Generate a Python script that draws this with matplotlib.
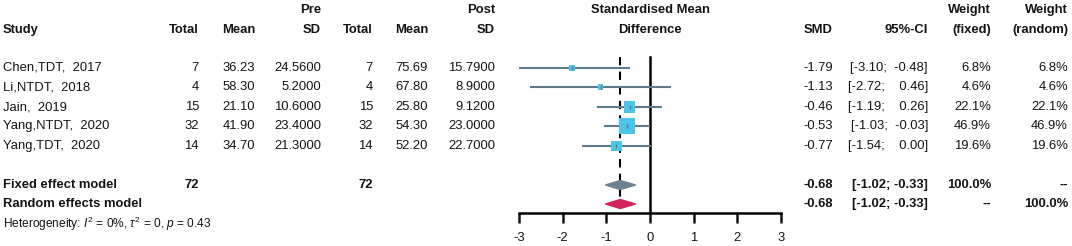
import numpy as np
import matplotlib
matplotlib.use("Agg")
import matplotlib.pyplot as plt
from matplotlib.patches import Polygon

plt.rcParams['font.family'] = ['Liberation Sans', 'DejaVu Sans']
plt.rcParams['mathtext.fontset'] = 'custom'
plt.rcParams['mathtext.rm'] = 'Liberation Sans'
plt.rcParams['mathtext.it'] = 'Liberation Sans:italic'

# data
studies = ["Chen,TDT,  2017", "Li,NTDT,  2018", "Jain,  2019", "Yang,NTDT,  2020", "Yang,TDT,  2020"]
n_pre = [7, 4, 15, 32, 14]
mean_pre = [36.23, 58.30, 21.10, 41.90, 34.70]
sd_pre = [24.56, 5.20, 10.60, 23.40, 21.30]
n_post = [7, 4, 15, 32, 14]
mean_post = [75.69, 67.80, 25.80, 54.30, 52.20]
sd_post = [15.79, 8.90, 9.12, 23.00, 22.70]
smd = [-1.79, -1.13, -0.46, -0.53, -0.77]
ci_lo = [-3.10, -2.72, -1.19, -1.03, -1.54]
ci_hi = [-0.48, 0.46, 0.26, -0.03, 0.00]
w_fixed = [6.8, 4.6, 22.1, 46.9, 19.6]
w_random = [6.8, 4.6, 22.1, 46.9, 19.6]
pooled_smd = -0.68
pooled_lo = -1.02
pooled_hi = -0.33
total_pre = 72
total_post = 72
xticks = [-3, -2, -1, 0, 1, 2, 3]

W, H = 1072, 246
fig = plt.figure(figsize=(W / 100, H / 100), dpi=100)
fig.patch.set_facecolor('white')

# text layer in pixel coordinates
tax = fig.add_axes([0, 0, 1, 1])
tax.set_xlim(0, W)
tax.set_ylim(H, 0)
tax.axis('off')

fs = 9.4
col = '#141414'
row_y = [68, 87, 107, 126, 146]
fixed_y, random_y = 185, 204

def t(x, y, s, ha='right', bold=False, size=fs):
    tax.text(x, y, s, ha=ha, va='center', fontsize=size, color=col,
             fontweight='bold' if bold else 'normal')

# headers
t(321, 10, "Pre", bold=True)
t(495, 10, "Post", bold=True)
t(650, 10, "Standardised Mean", ha='center', bold=True)
t(991, 10, "Weight", bold=True)
t(1068, 10, "Weight", bold=True)
t(3, 30, "Study", ha='left', bold=True)
t(199, 30, "Total", bold=True)
t(255, 30, "Mean", bold=True)
t(321, 30, "SD", bold=True)
t(373, 30, "Total", bold=True)
t(428, 30, "Mean", bold=True)
t(495, 30, "SD", bold=True)
t(650, 30, "Difference", ha='center', bold=True)
t(833, 30, "SMD", bold=True)
t(928, 30, "95%-CI", bold=True)
t(991, 30, "(fixed)", bold=True)
t(1068, 30, "(random)", bold=True)

for i, y in enumerate(row_y):
    t(3, y, studies[i], ha='left')
    t(199, y, "%d" % n_pre[i])
    t(255, y, "%.2f" % mean_pre[i])
    t(321, y, "%.4f" % sd_pre[i])
    t(373, y, "%d" % n_post[i])
    t(428, y, "%.2f" % mean_post[i])
    t(495, y, "%.4f" % sd_post[i])
    t(833, y, "%.2f" % smd[i])
    t(928, y, "[%.2f;" % ci_lo[i] + ("%6.2f]" % ci_hi[i]).replace(" ", "  "))
    t(991, y, "%.1f%%" % w_fixed[i])
    t(1068, y, "%.1f%%" % w_random[i])

t(3, fixed_y, "Fixed effect model", ha='left', bold=True)
t(199, fixed_y, "%d" % total_pre, bold=True)
t(373, fixed_y, "%d" % total_post, bold=True)
t(833, fixed_y, "%.2f" % pooled_smd, bold=True)
t(928, fixed_y, "[%.2f; %.2f]" % (pooled_lo, pooled_hi), bold=True)
t(991, fixed_y, "100.0%", bold=True)
t(1068, fixed_y, "--", bold=True)

t(3, random_y, "Random effects model", ha='left', bold=True)
t(833, random_y, "%.2f" % pooled_smd, bold=True)
t(928, random_y, "[%.2f; %.2f]" % (pooled_lo, pooled_hi), bold=True)
t(991, random_y, "--", bold=True)
t(1068, random_y, "100.0%", bold=True)

tax.text(3, 224, r"Heterogeneity: $I^2$ = 0%, $\tau^2$ = 0, $p$ = 0.43",
         ha='left', va='center', fontsize=8.6, color=col)

# forest panel
x0, x1 = 519, 781
ax_y = 213
fax = fig.add_axes([x0 / W, (H - ax_y) / H, (x1 - x0) / W, ax_y / H])
fax.set_facecolor('none')
fax.set_xlim(-3, 3)
fax.set_ylim(ax_y, 0)
for s in ['top', 'right', 'left']:
    fax.spines[s].set_visible(False)
fax.spines['bottom'].set_linewidth(1.8)
fax.spines['bottom'].set_bounds(-3, 3)
fax.set_yticks([])
fax.set_xticks(xticks)
fax.set_xticklabels([str(v) for v in xticks])
fax.tick_params(axis='x', length=7, width=1.8, labelsize=fs, pad=7, colors=col)

line_c = '#5d7b8c'
sq_c = '#4cc6e6'

# zero line and pooled dashed line
fax.plot([0, 0], [57, ax_y], color='black', lw=1.8, zorder=2)
fax.plot([pooled_smd, pooled_smd], [57, random_y], color='black', lw=1.5,
         ls=(0, (4, 3)), zorder=2)

for i, y in enumerate(row_y):
    fax.plot([ci_lo[i], ci_hi[i]], [y, y], color=line_c, lw=1.5, zorder=3)
    side_px = 2.34 * np.sqrt(w_fixed[i])
    fax.scatter([smd[i]], [y], marker='s', s=(side_px * 0.72) ** 2,
                color=sq_c, edgecolor='none', zorder=4)
    fax.scatter([smd[i]], [y], marker='|', s=12, color=line_c, lw=1, zorder=5)

def diamond(y, c):
    h = 4.5
    poly = Polygon([[pooled_lo, y], [pooled_smd, y - h], [pooled_hi, y], [pooled_smd, y + h]],
                   closed=True, facecolor=c, edgecolor=c, zorder=4)
    fax.add_patch(poly)

diamond(fixed_y, '#6a8293')
diamond(random_y, '#d1245b')

fig.savefig("out.png", dpi=100, facecolor='white')
